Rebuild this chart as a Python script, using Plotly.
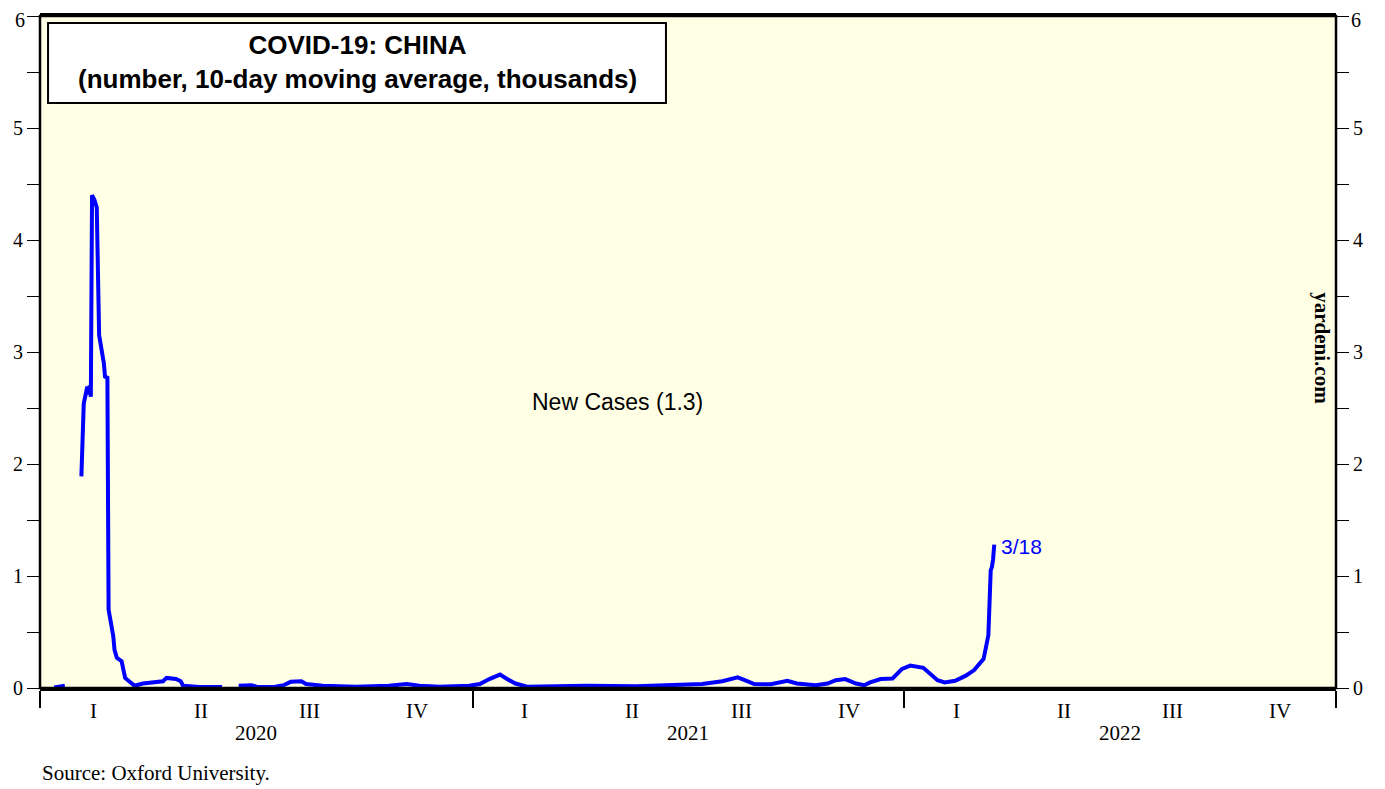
import plotly.graph_objects as go

# ---- data (10-day moving average of new cases, thousands) ----
dates = [
    "2020-01-13", "2020-01-16", "2020-01-19", "2020-01-22", None,
    "2020-02-05", "2020-02-07", "2020-02-10", "2020-02-11", "2020-02-12", "2020-02-13",
    "2020-02-14", "2020-02-16", "2020-02-18", "2020-02-20", "2020-02-24", "2020-02-25",
    "2020-02-27", "2020-02-28", "2020-03-03", "2020-03-04", "2020-03-06", "2020-03-10",
    "2020-03-13", "2020-03-17", "2020-03-21", "2020-03-28", "2020-04-04", "2020-04-14",
    "2020-04-17", "2020-04-21", "2020-04-25", "2020-04-29", "2020-05-01", "2020-05-15",
    "2020-06-03", None,
    "2020-06-17", "2020-06-28", "2020-07-02", "2020-07-16", "2020-07-25", "2020-07-31",
    "2020-08-09", "2020-08-13", "2020-08-27", "2020-09-24", "2020-10-22", "2020-11-06",
    "2020-11-17", "2020-12-04", "2020-12-29",
    "2021-01-07", "2021-01-15", "2021-01-24", "2021-01-30", "2021-02-06", "2021-02-16",
    "2021-04-07", "2021-05-19", "2021-06-16", "2021-07-14", "2021-07-31", "2021-08-13",
    "2021-08-20", "2021-08-27", "2021-09-10", "2021-09-24", "2021-10-02", "2021-10-18",
    "2021-10-28", "2021-11-04", "2021-11-12", "2021-11-21", "2021-11-28", "2021-12-03",
    "2021-12-12", "2021-12-22", "2021-12-30",
    "2022-01-06", "2022-01-17", "2022-01-23", "2022-01-29", "2022-02-04", "2022-02-13",
    "2022-02-22", "2022-03-01", "2022-03-09", "2022-03-13", "2022-03-14", "2022-03-15",
    "2022-03-16", "2022-03-17", "2022-03-18",
]
new_cases = [
    0.005, 0.008, 0.012, 0.02, None,
    1.89, 2.54, 2.69, 2.62, 2.70, 2.60,
    4.40, 4.36, 4.29, 3.15, 2.90, 2.78,
    2.77, 0.70, 0.46, 0.34, 0.27, 0.24,
    0.09, 0.06, 0.02, 0.04, 0.05, 0.06,
    0.09, 0.085, 0.08, 0.06, 0.02, 0.01,
    0.01, None,
    0.02, 0.025, 0.012, 0.008, 0.025, 0.055,
    0.06, 0.035, 0.02, 0.012, 0.02, 0.035,
    0.02, 0.012, 0.02,
    0.035, 0.08, 0.12, 0.08, 0.04, 0.012,
    0.02, 0.015, 0.025, 0.035, 0.06, 0.095,
    0.065, 0.035, 0.033, 0.065, 0.04, 0.025,
    0.04, 0.07, 0.08, 0.04, 0.025, 0.05,
    0.08, 0.085, 0.17,
    0.20, 0.18, 0.13, 0.07, 0.05, 0.065,
    0.11, 0.16, 0.26, 0.47, 0.76, 1.05,
    1.08, 1.15, 1.28,
]

last_label = "3/18"
series_label = "New Cases (1.3)"

y_ticks = [0, 0.5, 1, 1.5, 2, 2.5, 3, 3.5, 4, 4.5, 5, 5.5, 6]
# the top label ("6") is drawn as an annotation so it stays inside the page
y_ticktext = ["0", "", "1", "", "2", "", "3", "", "4", "", "5", "", ""]
y_top_label = "6"

year_bounds = ["2020-01-01", "2021-01-01", "2022-01-01", "2023-01-01"]
quarter_mid = ["2020-02-15", "2020-05-16", "2020-08-16", "2020-11-15",
               "2021-02-14", "2021-05-16", "2021-08-16", "2021-11-15",
               "2022-02-14", "2022-05-16", "2022-08-16", "2022-11-15"]
quarter_labels = ["I", "II", "III", "IV"] * 3
year_mid = ["2020-07-02", "2021-07-02", "2022-07-02"]
year_labels = ["2020", "2021", "2022"]

BLUE = "#0000FF"
SERIF = "Liberation Serif, Times New Roman, serif"
SANS = "Liberation Sans, Arial, sans-serif"

fig = go.Figure()
fig.add_trace(go.Scatter(
    x=dates, y=new_cases, mode="lines",
    line=dict(color=BLUE, width=4), connectgaps=False,
    showlegend=False, hoverinfo="skip",
))
# invisible trace to carry the right-hand axis
fig.add_trace(go.Scatter(
    x=[year_bounds[0], year_bounds[-1]], y=[0, 6], yaxis="y2", mode="markers",
    marker=dict(opacity=0), showlegend=False, hoverinfo="skip",
))

axis_common = dict(
    range=[0, 6], tickmode="array", tickvals=y_ticks, ticktext=y_ticktext,
    ticks="outside", ticklen=12, tickwidth=1, tickcolor="black",
    showgrid=False, zeroline=False, showline=False, automargin=False,
    ticklabeloverflow="allow",
    tickfont=dict(family=SERIF, size=20, color="black"),
)

# page body has an 8px margin, so the figure is offset by it
fig.update_layout(
    width=1377, height=781,
    margin=dict(l=32, r=49, t=8, b=101, autoexpand=False),
    paper_bgcolor="white", plot_bgcolor="#FFFFE5",
    xaxis=dict(
        type="date", range=[year_bounds[0], year_bounds[-1]],
        tickmode="array", tickvals=year_bounds, ticktext=["", "", "", ""],
        ticks="outside", ticklen=17, tickwidth=2, tickcolor="black",
        showgrid=False, zeroline=False, automargin=False,
        showline=True, linecolor="black", linewidth=2.5, mirror=True,
    ),
    yaxis=dict(side="left", **axis_common),
    yaxis2=dict(side="right", overlaying="y", **axis_common),
    showlegend=False,
)

fig.add_shape(type="rect", xref="paper", yref="paper", x0=0, x1=1, y0=0, y1=1,
              line=dict(color="black", width=2.5), fillcolor="rgba(0,0,0,0)")

# top "6" labels on both sides
for xp, anchor, shift in [(0, "right", -14), (1, "left", 14)]:
    fig.add_annotation(
        xref="paper", yref="paper", x=xp, y=1.0119, text=y_top_label,
        showarrow=False, xanchor=anchor, yanchor="top", xshift=shift,
        borderpad=0, font=dict(family=SERIF, size=20, color="black"),
    )

# title box
fig.add_shape(type="rect", xref="paper", yref="paper",
              x0=0.0062, x1=0.483, y0=0.8705, y1=0.9896,
              line=dict(color="black", width=2), fillcolor="white")
fig.add_annotation(
    xref="paper", yref="paper", x=0.2446, y=0.9315,
    text="<b>COVID-19: CHINA</b><br><b>(number, 10-day moving average, thousands)</b>",
    showarrow=False, align="center", xanchor="center", yanchor="middle",
    font=dict(family=SANS, size=26, color="black"),
)

fig.add_annotation(
    x="2021-05-03", y=2.55, xref="x", yref="y", text=series_label,
    showarrow=False, font=dict(family=SANS, size=23, color="black"),
)
fig.add_annotation(
    x=dates[-1], y=new_cases[-1], xref="x", yref="y", text=last_label,
    showarrow=False, xanchor="left", yanchor="middle", xshift=5, yshift=-2,
    font=dict(family=SANS, size=21, color=BLUE),
)
fig.add_annotation(
    xref="paper", yref="paper", x=0.9895, y=0.505, text="<b>yardeni.com</b>",
    showarrow=False, textangle=90, xanchor="center", yanchor="middle",
    font=dict(family=SERIF, size=21, color="black"),
)

for q, lab in zip(quarter_mid, quarter_labels):
    fig.add_annotation(x=q, y=-0.034, xref="x", yref="paper", text=lab,
                       showarrow=False, yanchor="middle",
                       font=dict(family=SERIF, size=21, color="black"))
for ym, lab in zip(year_mid, year_labels):
    fig.add_annotation(x=ym, y=-0.067, xref="x", yref="paper", text=lab,
                       showarrow=False, yanchor="middle",
                       font=dict(family=SERIF, size=21, color="black"))

fig.add_annotation(xref="paper", yref="paper", x=0, y=-0.1265,
                   text="Source: Oxford University.", showarrow=False,
                   xanchor="left", yanchor="middle",
                   font=dict(family=SERIF, size=21, color="black"))

fig.write_html("out.html")
